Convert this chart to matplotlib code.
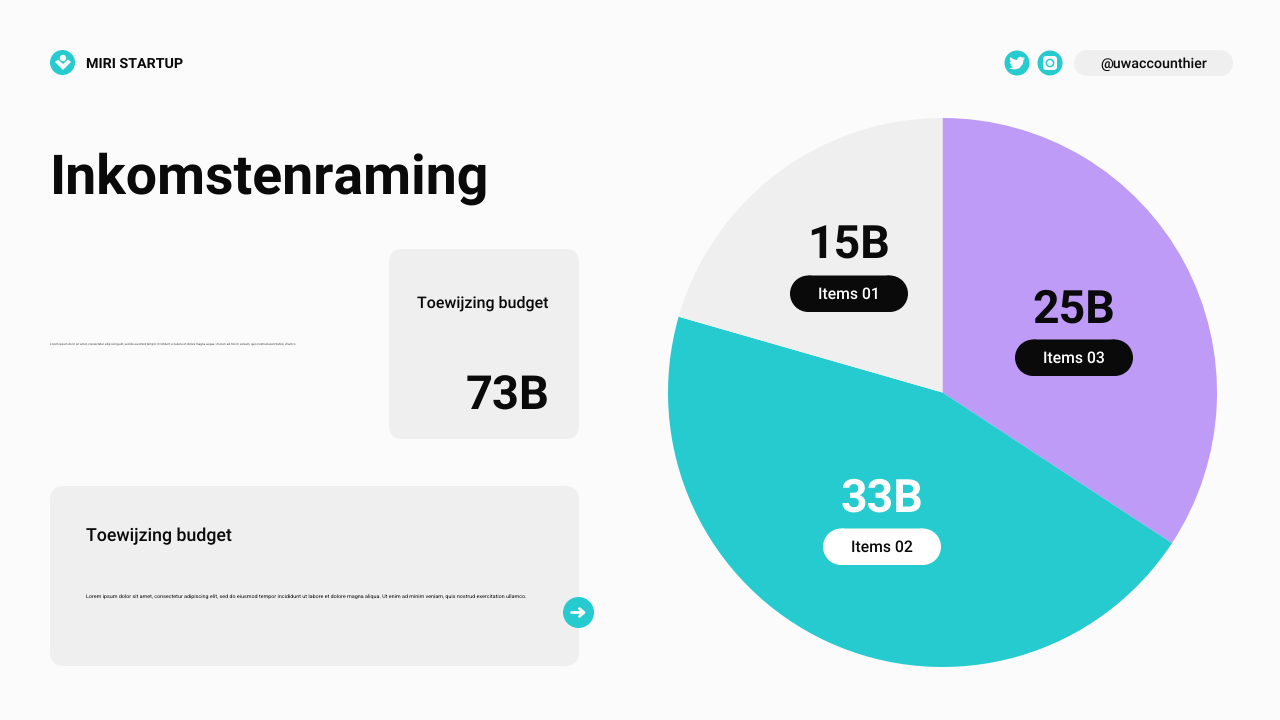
import matplotlib
matplotlib.use("Agg")
import matplotlib.pyplot as plt
from matplotlib.patches import Circle, FancyBboxPatch, Polygon, Rectangle

plt.rcParams["font.family"] = ["Roboto", "DejaVu Sans"]
plt.rcParams["text.hinting"] = "none"

BG = "#fbfbfb"
TEAL = "#26cbd0"
PURPLE = "#bd9bf6"
GREY = "#efefef"
INK = "#0a0a0a"

# chart values, clockwise from the top
pie_values = [25, 33, 15]
pie_labels = ["25B", "33B", "15B"]
pie_items = ["Items 03", "Items 02", "Items 01"]
pie_colors = [PURPLE, TEAL, GREY]

title = "Inkomstenraming"
brand = "MIRI STARTUP"
handle = "@uwaccounthier"
card_title = "Toewijzing budget"
card_value = "73B"
lorem = ("Lorem ipsum dolor sit amet, consectetur adipiscing elit, sed do eiusmod tempor incididunt ut "
         "labore et dolore magna aliqua. Ut enim ad minim veniam, quis nostrud exercitation ullamco.")

# twitter bird outline on a 24 unit grid
bird = [(23, 5), (20.5, 6), (22.5, 3.5), (20, 4.7), (16.5, 3.2), (13, 5), (12.2, 8), (7, 6.5),
        (2.5, 3.8), (2, 7), (3.7, 10.3), (2, 9.8), (2.2, 12), (5, 15), (3, 15), (6.5, 18),
        (1, 19.5), (8, 21), (15, 19.5), (20, 13.5), (21, 8)]


def rounded(ax, x0, y0, x1, y1, r, color):
    ax.add_patch(FancyBboxPatch(
        (x0 + r, y0 + r), x1 - x0 - 2 * r, y1 - y0 - 2 * r,
        boxstyle=f"round,pad={r},rounding_size={r}",
        fc=color, ec="none"
    ))


def pill(ax, x0, y0, x1, y1, color):
    r = (y1 - y0) / 2
    ax.add_patch(Rectangle((x0 + r, y0), x1 - x0 - 2 * r, y1 - y0, fc=color, ec="none", snap=False))
    ax.add_patch(Circle((x0 + r, y0 + r), r, fc=color, ec="none"))
    ax.add_patch(Circle((x1 - r, y0 + r), r, fc=color, ec="none"))


fig = plt.figure(figsize=(12.8, 7.2), dpi=100, facecolor=BG)

# page layer in pixel coordinates
ax = fig.add_axes([0, 0, 1, 1])
ax.set_xlim(0, 1280)
ax.set_ylim(720, 0)
ax.axis("off")

# header left
ax.add_patch(Circle((62.5, 62.5), 12.5, fc=TEAL, ec="none"))
ax.add_patch(Circle((63, 58), 3.2, fc="white", ec="none"))
ax.add_patch(Polygon([(55, 62), (58, 59.5), (63, 64), (68, 59.5), (71, 62), (63, 70)], fc="white", ec="none"))
ax.text(86, 64, brand, fontsize=10.3, fontweight="bold", color=INK, va="center", ha="left")

# header right
ax.add_patch(Circle((1017, 63), 12.5, fc=TEAL, ec="none"))
ax.add_patch(Polygon([(1017 + (px - 12) * 0.72, 63 + (py - 12) * 0.72) for px, py in bird], fc="white", ec="none"))
ax.add_patch(Circle((1050, 63), 12.5, fc=TEAL, ec="none"))
rounded(ax, 1043, 56, 1057, 70, 3, "white")
ax.add_patch(Circle((1050, 63), 3.6, fc="none", ec=TEAL, lw=1.1))
pill(ax, 1074, 50, 1233, 76, GREY)
ax.text(1154, 64, handle, fontsize=10.3, fontweight="medium", color=INK, va="center", ha="center")

# title
ax.text(50, 179, title, fontsize=39.9, fontweight="bold", color=INK, va="center", ha="left")

# tiny paragraph
ax.text(50, 344, lorem, fontsize=2.21, color="#444444", va="center", ha="left")

# small card
rounded(ax, 389, 249, 579, 439, 14, GREY)
ax.text(483, 303.5, card_title, fontsize=11.5, fontweight="medium", color=INK, va="center", ha="center")
ax.text(549.5, 397, card_value, fontsize=33.8, fontweight="bold", color=INK, va="center", ha="right")

# wide card
rounded(ax, 50, 486, 579, 666, 14, GREY)
ax.text(86, 536, card_title, fontsize=12.8, fontweight="medium", color=INK, va="center", ha="left")
ax.text(86, 597, lorem, fontsize=3.84, color=INK, va="center", ha="left")

# arrow button
ax.add_patch(Circle((578.5, 612.5), 15.5, fc=TEAL, ec="none"))
ax.annotate("", xy=(586, 612.5), xytext=(571.5, 612.5),
            arrowprops=dict(arrowstyle="->,head_length=0.32,head_width=0.28", color="white", lw=2,
                            shrinkA=0, shrinkB=0))

# pie
pie_ax = fig.add_axes([668 / 1280, (720 - 667) / 720, 549 / 1280, 549 / 720])
pie_ax.pie(pie_values, colors=pie_colors, startangle=90, counterclock=False, radius=1)
pie_ax.set_xlim(-1, 1)
pie_ax.set_ylim(-1, 1)

# labels sit on top of the pie, in pixel coordinates
top = fig.add_axes([0, 0, 1, 1])
top.set_xlim(0, 1280)
top.set_ylim(720, 0)
top.axis("off")
top.patch.set_alpha(0)

label_centres = [(1074, 306), (882, 495), (849, 242)]
label_colors = [INK, "white", INK]
pill_colors = [INK, "white", INK]
pill_text_colors = ["white", INK, "white"]

for i in range(len(pie_values)):
    cx, cy = label_centres[i]
    top.text(cx, cy + 3.5, pie_labels[i], fontsize=33.4, fontweight="bold", color=label_colors[i],
             va="center", ha="center")
    pill(top, cx - 59, cy + 33.5, cx + 59, cy + 70, pill_colors[i])
    top.text(cx - 0.5, cy + 52, pie_items[i], fontsize=11.3, fontweight="medium", color=pill_text_colors[i],
             va="center", ha="center")

fig.savefig("out.png", dpi=100, facecolor=BG)
